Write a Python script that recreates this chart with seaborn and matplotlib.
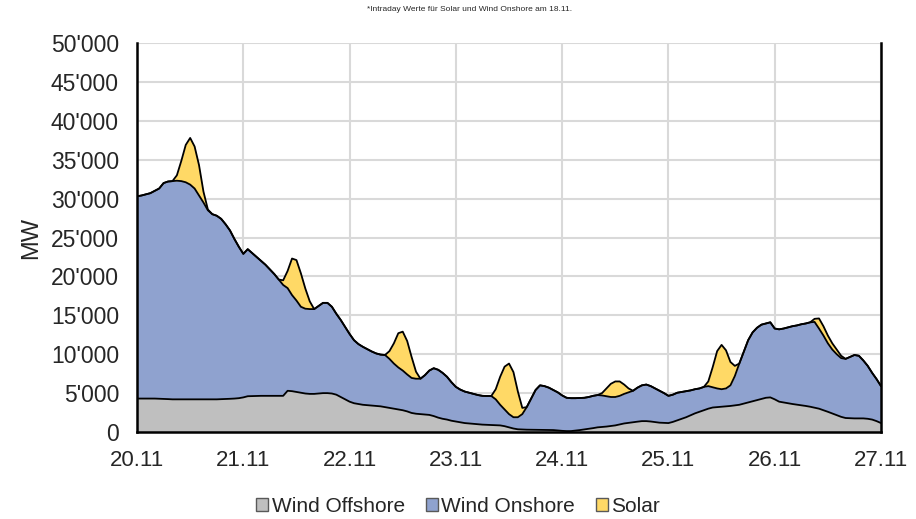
# Einspeisung Wind Offshore / Wind Onshore / Solar, 20.11. - 27.11.

import numpy as np
import pandas as pd
import matplotlib.pyplot as plt
import matplotlib.dates as mdates
from matplotlib.patches import Patch
from matplotlib.ticker import FuncFormatter, MultipleLocator
import seaborn as sns

# Zeitachse: Stundenwerte
zeit = pd.date_range('2023-11-20', periods=169, freq='h')

# Werte in MW, eine Zeile pro Tag
wind_offshore = [
    4300, 4300, 4300, 4300, 4300, 4280, 4250, 4230, 4200, 4200, 4200, 4200, 4200, 4200, 4200, 4200, 4200, 4200, 4200, 4220, 4250, 4270, 4300, 4350,
    4450, 4600, 4620, 4640, 4650, 4650, 4650, 4650, 4650, 4650, 5300, 5250, 5150, 5050, 4950, 4900, 4900, 4950, 5000, 5000, 4950, 4800, 4500, 4200,
    3900, 3700, 3600, 3500, 3450, 3400, 3350, 3300, 3200, 3100, 3000, 2900, 2800, 2650, 2450, 2350, 2300, 2250, 2200, 2050, 1850, 1700, 1600, 1450,
    1350, 1250, 1150, 1100, 1050, 1000, 950, 920, 900, 880, 850, 750, 600, 450, 350, 320, 300, 290, 280, 270, 260, 255, 250, 200,
    150, 120, 120, 180, 250, 330, 420, 500, 600, 650, 700, 780, 850, 980, 1100, 1180, 1250, 1330, 1400, 1400, 1350, 1280, 1200, 1170,
    1150, 1300, 1500, 1700, 1900, 2150, 2400, 2600, 2800, 3000, 3150, 3200, 3250, 3300, 3350, 3420, 3500, 3650, 3800, 3950, 4100, 4250, 4400, 4450,
    4200, 3900, 3800, 3700, 3600, 3520, 3450, 3350, 3250, 3130, 3000, 2800, 2600, 2380, 2150, 1950, 1800, 1770, 1750, 1750, 1750, 1700, 1600, 1400,
    1150,
]
wind_onshore = [
    26000, 26100, 26250, 26400, 26700, 27020, 27750, 27970, 28050, 28100, 28050, 27900, 27600, 27100, 26200, 25300, 24300, 23800, 23600, 23180, 22450, 21630, 20500, 19450,
    18450, 18900, 18380, 17860, 17350, 16850, 16250, 15650, 14950, 14250, 13200, 12350, 11750, 11050, 10900, 10900, 10900, 11250, 11600, 11600, 11150, 10400, 9900, 9300,
    8700, 8100, 7700, 7450, 7200, 6950, 6750, 6650, 6700, 6300, 5800, 5400, 5100, 4750, 4500, 4500, 4550, 5050, 5700, 6150, 6150, 5900, 5500, 4950,
    4450, 4200, 4050, 3950, 3850, 3750, 3700, 3710, 3730, 3320, 2650, 2150, 1700, 1450, 1550, 1980, 2900, 4010, 5120, 5730, 5640, 5445, 5150, 4900,
    4550, 4280, 4230, 4170, 4120, 4070, 4080, 4150, 4150, 4050, 3900, 3720, 3650, 3670, 3800, 3920, 4050, 4370, 4600, 4700, 4550, 4320, 4100, 3830,
    3500, 3500, 3550, 3450, 3350, 3200, 3100, 3000, 3000, 2900, 2600, 2400, 2250, 2300, 2650, 3780, 5300, 6650, 8000, 8850, 9300, 9550, 9550, 9650,
    9100, 9300, 9500, 9750, 10000, 10180, 10400, 10600, 10850, 11020, 10300, 9600, 8800, 8220, 7850, 7550, 7600, 7880, 8150, 8050, 7450, 6800, 6000, 5400,
    4750,
]
solar = [
    0, 0, 0, 0, 0, 0, 0, 0, 0, 700, 2600, 4800, 6000, 5400, 3900, 1400, 100, 0, 0, 0, 0, 0, 0, 0,
    0, 0, 0, 0, 0, 0, 0, 0, 0, 600, 2200, 4700, 5200, 4300, 2600, 1000, 0, 0, 0, 0, 0, 0, 0, 0,
    0, 0, 0, 0, 0, 0, 0, 0, 0, 1000, 2600, 4400, 5000, 4300, 2700, 900, 0, 0, 0, 0, 0, 0, 0, 0,
    0, 0, 0, 0, 0, 0, 0, 0, 0, 1300, 3600, 5500, 6500, 5800, 3300, 800, 0, 0, 0, 0, 0, 0, 0, 0,
    0, 0, 0, 0, 0, 0, 0, 0, 0, 300, 1000, 1700, 2000, 1850, 1200, 500, 0, 0, 0, 0, 0, 0, 0, 0,
    0, 0, 0, 0, 0, 0, 0, 0, 0, 600, 2600, 4800, 5700, 4900, 3000, 1300, 0, 0, 0, 0, 0, 0, 0, 0,
    0, 0, 0, 0, 0, 0, 0, 0, 0, 400, 1300, 1200, 1000, 800, 600, 300, 0, 0, 0, 0, 0, 0, 0, 0,
    0,
]

serien = ['Wind Offshore', 'Wind Onshore', 'Solar']
farben = ['#BFBFBF', '#8FA2CF', '#FFD966']

sns.set_style('white')
plt.rcParams['font.family'] = ['Liberation Sans', 'DejaVu Sans']

df = pd.DataFrame({'zeit': zeit, 'Wind Offshore': wind_offshore,
                   'Wind Onshore': wind_onshore, 'Solar': solar})
kumuliert = df[serien].cumsum(axis=1)

fig = plt.figure(figsize=(9.16, 5.19), dpi=100)
ax = fig.add_axes([0.1496, 0.1676, 0.8122, 0.7495])

ax.stackplot(df['zeit'], df['Wind Offshore'], df['Wind Onshore'], df['Solar'],
             colors=farben, linewidth=0, zorder=2)

# schwarze Konturlinien
for s in serien:
    sns.lineplot(x=df['zeit'], y=kumuliert[s], color='black', linewidth=1.3,
                 ax=ax, legend=False, zorder=3)

ax.set_xlim(zeit[0], zeit[-1])
ax.set_ylim(0, 50000)
ax.yaxis.set_major_locator(MultipleLocator(5000))
ax.yaxis.set_major_formatter(FuncFormatter(lambda v, p: f'{int(v):,}'.replace(',', "'")))
ax.xaxis.set_major_locator(mdates.DayLocator())
ax.xaxis.set_major_formatter(mdates.DateFormatter('%d.%m'))

ax.grid(True, color='#D9D9D9', linewidth=1.5)
ax.set_axisbelow(True)
for sp in ['left', 'bottom', 'right']:
    ax.spines[sp].set_color('black')
    ax.spines[sp].set_linewidth(1.8)
ax.spines['top'].set_visible(False)

ax.tick_params(axis='x', direction='in', length=5, width=1.5, color='black',
               labelsize=16, pad=13)
ax.tick_params(axis='y', length=0, labelsize=16.5, pad=13)
ax.set_xlabel('')
ax.set_ylabel('MW', fontsize=17, labelpad=6)

handles = [Patch(facecolor=c, edgecolor='#595959', linewidth=1) for c in farben]
fig.legend(handles, serien, loc='center', bbox_to_anchor=(0.5, 0.024), ncol=3,
           frameon=False, fontsize=15, handlelength=0.6, handleheight=0.6,
           handletextpad=0.15, columnspacing=1.0)

fig.text(0.513, 0.988, '*Intraday Werte für Solar und Wind Onshore am 18.11.',
         ha='center', va='top', fontsize=6)

fig.savefig('out.png', dpi=100)
